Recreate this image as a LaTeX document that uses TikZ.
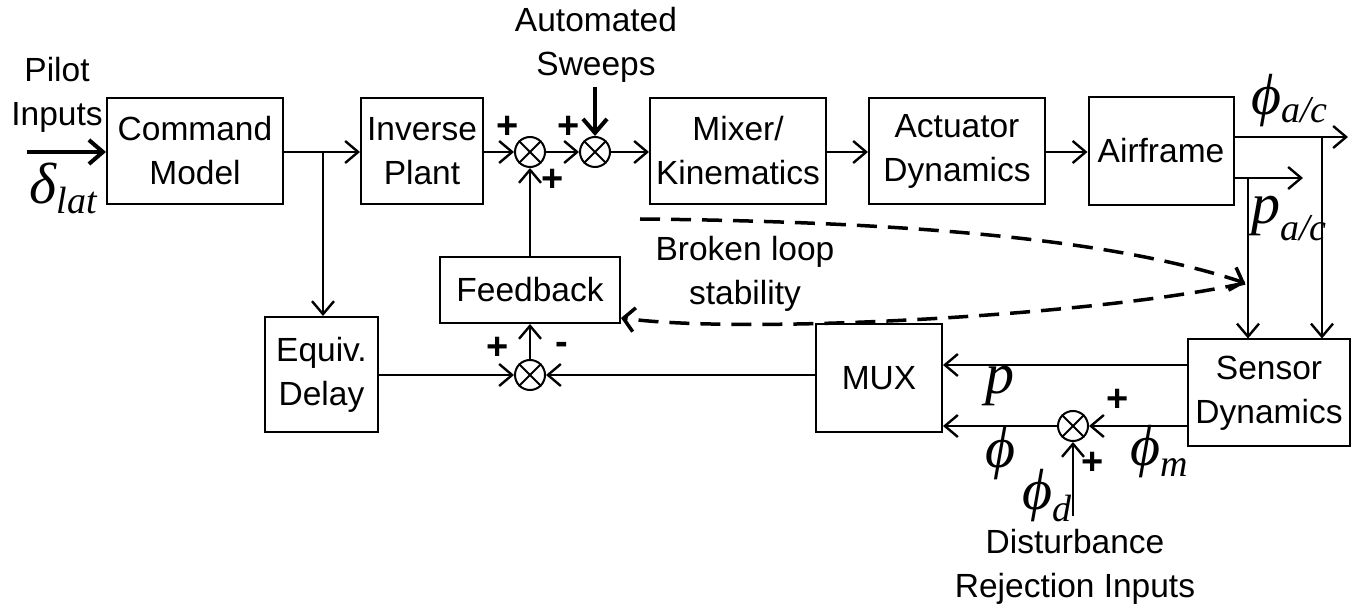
\documentclass[tikz,border=0pt]{standalone}
\usepackage{fontspec}
\setmainfont{Liberation Sans}
\newfontfamily\mathserif{Liberation Serif}
\usetikzlibrary{arrows.meta}
\begin{document}
\begin{tikzpicture}[x=1pt,y=-1pt,
  line width=2pt,
  every node/.style={font=\fontsize{33.5}{44}\selectfont},
  blk/.style={draw, line width=2pt, align=center, inner sep=0pt},
  sumj/.style={draw, circle, minimum size=30pt, inner sep=0pt, line width=2pt,
    append after command={
      (\tikzlastnode.north east) edge[-] (\tikzlastnode.south west)
      (\tikzlastnode.north west) edge[-] (\tikzlastnode.south east)}},
  sig/.style={-{Straight Barb[length=13pt,width=22pt,line width=2.4pt]}},
  bigsig/.style={line width=4pt,-{Straight Barb[length=14pt,width=24pt]}},
  loopdash/.style={line width=3.5pt,dash pattern=on 20pt off 11pt,-{Straight Barb[length=11pt,width=24pt]}},
  sgn/.style={font=\fontsize{38}{38}\selectfont\bfseries, inner sep=0pt},
  lbl/.style={align=center, inner sep=0pt},
  mth/.style={inner sep=0pt, anchor=base west, font=\mathserif\itshape\fontsize{58}{58}\selectfont}
]
\useasboundingbox (0,0) rectangle (1353,609);

% blocks
\node[blk, minimum width=176pt, minimum height=106pt] (cmd) at (195,151) {Command\\Model};
\node[blk, minimum width=122pt, minimum height=106pt] (inv) at (422,151) {Inverse\\Plant};
\node[blk, minimum width=176pt, minimum height=106pt] (mix) at (738,151) {Mixer/\\Kinematics};
\node[blk, minimum width=176pt, minimum height=106pt] (act) at (957,151) {Actuator\\Dynamics};
\node[blk, minimum width=145pt, minimum height=108pt] (air) at (1161,151) {Airframe};
\node[blk, minimum width=180pt, minimum height=66pt] (fb) at (530,290) {Feedback};
\node[blk, minimum width=113pt, minimum height=115pt] (eqd) at (321.5,374.5) {Equiv.\\Delay};
\node[blk, minimum width=126pt, minimum height=108pt] (mux) at (879,378) {MUX};
\node[blk, minimum width=162pt, minimum height=107pt] (sen) at (1269,393) {Sensor\\Dynamics};

% summing junctions
\node[sumj] (s1) at (530,152) {};
\node[sumj] (s2) at (595,152) {};
\node[sumj] (s4) at (530,375) {};
\node[sumj] (s3) at (1073,426) {};

% free ends
\coordinate (pin) at (27,152);
\coordinate (swp) at (595,87);
\coordinate (br) at (323,152);
\coordinate (phiout) at (1348,137);
\coordinate (pout) at (1303,178);
\coordinate (phiv) at (1322,137);
\coordinate (pv) at (1248,178);
\coordinate (dist) at (1073,516);

% forward path
\draw[bigsig] (pin) -- (cmd.west |- pin);
\draw[sig] (cmd.east |- br) -- (inv.west |- br);
\draw[sig] (br) -- (eqd.north -| br);
\draw[sig] (inv.east |- s1) -- (s1.west);
\draw[sig] (s1.east) -- (s2.west);
\draw[sig] (s2.east) -- (mix.west |- s2);
\draw[sig] (mix.east |- s2) -- (act.west |- s2);
\draw[sig] (act.east |- s2) -- (air.west |- s2);
\draw[bigsig] (swp) -- (s2.north);

% airframe outputs
\draw[sig] (air.east |- phiout) -- (phiout);
\draw[sig] (air.east |- pout) -- (pout);
\draw[sig] (phiv) -- (sen.north -| phiv);
\draw[sig] (pv) -- (sen.north -| pv);

% sensor feedback
\draw[sig] (sen.west |- 0,365) -- (mux.east |- 0,365);
\draw[sig] (sen.west |- s3) -- (s3.east);
\draw[sig] (s3.west) -- (mux.east |- s3);
\draw[sig] (dist) -- (s3.south);
\draw[sig] (mux.west |- s4) -- (s4.east);
\draw[sig] (eqd.east |- s4) -- (s4.west);
\draw[sig] (s4.north) -- (fb.south);
\draw[sig] (fb.north) -- (s1.south);

% broken loop indicator
\coordinate (lt) at (1245,283);
\draw[loopdash] (640,219) .. controls (950,222) and (1130,245) .. (lt);
\draw[loopdash] (lt) .. controls (1100,315) and (750,335) .. (fb.east |- 0,318);

% signs
\node[sgn] at (508,127) {+};
\node[sgn] at (569,127) {+};
\node[sgn] at (553,180) {+};
\node[sgn] at (498,348) {+};
\node[sgn] at (562,348) {-};
\node[sgn] at (1118,400) {+};
\node[sgn] at (1093,463) {+};

% text labels
\node[lbl] at (57,95) {Pilot\\Inputs};
\node[lbl] at (596,45) {Automated\\Sweeps};
\node[lbl] at (745,274) {Broken loop\\stability};
\node[lbl] at (1075,567) {Disturbance\\Rejection Inputs};

% signal symbols
\node[mth] at (29,204) {δ\raisebox{-10pt}{\fontsize{38}{38}\selectfont lat}};
\node[mth] at (1250,115) {ϕ\raisebox{-8pt}{\fontsize{38}{38}\selectfont a/c}};
\node[mth] at (1250,224) {p\raisebox{-17pt}{\fontsize{38}{38}\selectfont a/c}};
\node[mth] at (984,394) {p};
\node[mth] at (984,468) {ϕ};
\node[mth] at (1129,466) {ϕ\raisebox{-11pt}{\fontsize{38}{38}\selectfont m}};
\node[mth] at (1021,510) {ϕ\raisebox{-12pt}{\fontsize{38}{38}\selectfont d}};
\end{tikzpicture}
\end{document}
